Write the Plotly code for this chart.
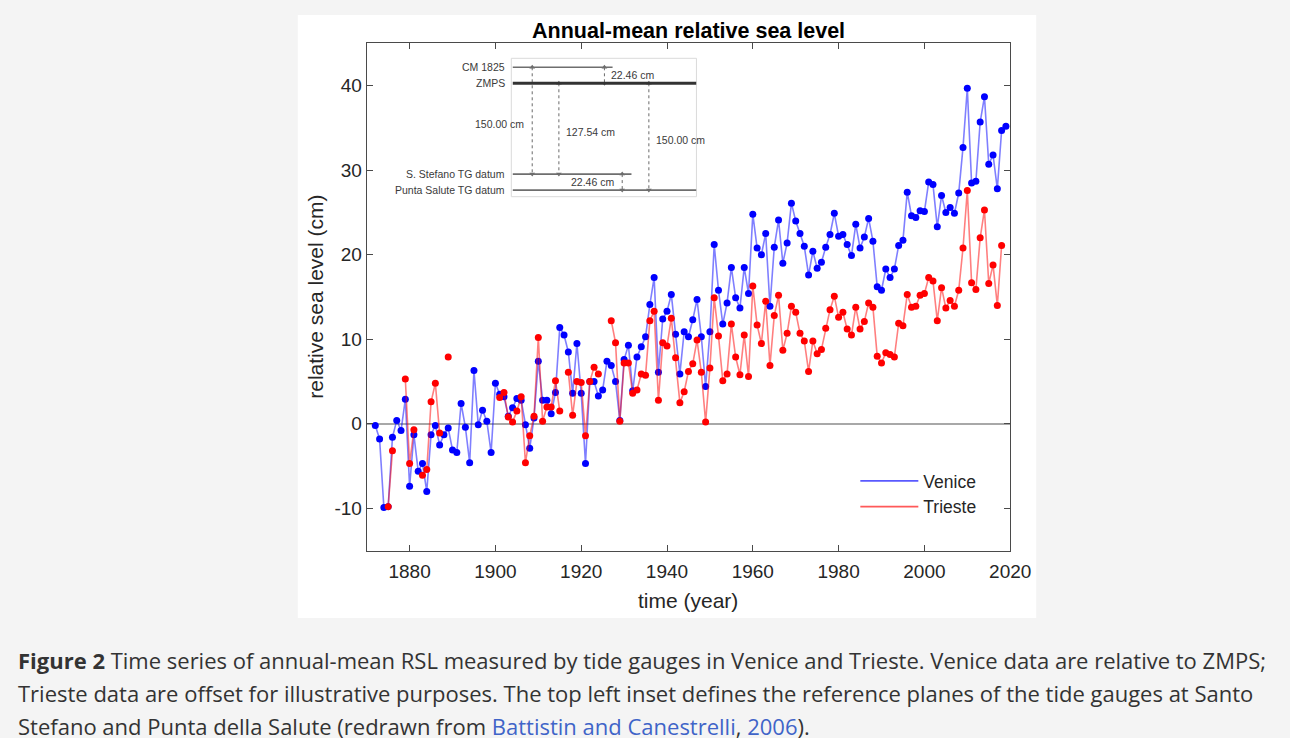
import plotly.graph_objects as go

# ---------------- data ----------------
venice_years = list(range(1872, 2020))
venice = [
    -0.2, -1.8, -9.9, -9.8, -1.6, 0.4, -0.8, 2.9, -7.4, -1.3,          # 1872-1881
    -5.6, -4.7, -8.0, -1.3, -0.2, -2.5, -1.3, -0.5, -3.1, -3.4,          # 1882-1891
    2.4, -0.4, -4.6, 6.3, -0.1, 1.6, 0.3, -3.4, 4.8, 3.5,                # 1892-1901
    3.2, 0.9, 1.9, 3.0, 2.8, -0.1, -2.9, 0.7, 7.4, 2.8,                  # 1902-1911
    2.8, 1.2, 3.7, 11.4, 10.5, 8.5, 3.6, 9.5, 3.6, -4.7,                 # 1912-1921
    5.0, 5.0, 3.3, 4.0, 7.4, 6.9, 5.0, 0.4, 7.6, 9.3,                    # 1922-1931
    3.9, 7.9, 9.1, 10.3, 14.1, 17.3, 6.1, 12.4, 13.3, 15.3,              # 1932-1941
    10.6, 5.9, 10.9, 10.3, 12.3, 14.7, 10.3, 4.4, 10.9, 21.2,            # 1942-1951
    15.8, 11.8, 14.3, 18.5, 14.9, 13.7, 18.5, 15.4, 24.8, 20.8,          # 1952-1961
    20.0, 22.5, 13.9, 20.9, 24.1, 19.0, 21.4, 26.1, 24.0, 22.5,          # 1962-1971
    21.0, 17.6, 20.4, 18.4, 19.1, 20.9, 22.4, 24.9, 22.2, 22.4,          # 1972-1981
    21.2, 19.9, 23.6, 20.8, 22.1, 24.3, 21.6, 16.2, 15.8, 18.3,          # 1982-1991
    17.3, 18.3, 21.1, 21.7, 27.4, 24.6, 24.4, 25.2, 25.1, 28.6,          # 1992-2001
    28.3, 23.3, 27.0, 25.0, 25.6, 24.9, 27.3, 32.7, 39.7, 28.5,          # 2002-2011
    28.7, 35.7, 38.7, 30.7, 31.8, 27.8, 34.7, 35.2,                      # 2012-2019
]

trieste_years = list(range(1875, 2019))
trieste = [
    -9.8, -3.2, None, None, 5.3, -4.7, -0.7, None, -6.1, -5.4,           # 1875-1884
    2.6, 4.8, -1.1, None, 7.9, None, None, None, None, None,             # 1885-1894
    None, None, None, None, None, None, 3.1, 3.7, 0.8, 0.2,              # 1895-1904
    1.5, 3.2, -4.6, -1.4, 0.9, 10.2, 0.3, 2.0, 2.0, 5.1,                 # 1905-1914
    1.5, None, 6.1, 1.0, 5.0, 4.9, -1.4, 5.0, 6.7, 5.9,                  # 1915-1924
    None, None, 12.2, 9.6, 0.3, 7.2, 7.2, 3.6, 4.0, 5.9,                 # 1925-1934
    5.75, 12.2, 13.3, 2.8, 9.6, 9.2, 12.5, 7.8, 2.5, 3.8,                # 1935-1944
    6.2, 7.1, 9.9, 6.1, 0.2, 6.6, 14.9, 10.4, 5.1, 5.9,                  # 1945-1954
    11.8, 7.9, 5.8, 10.5, 5.6, 16.3, 11.7, 9.5, 14.5, 6.9,               # 1955-1964
    12.8, 15.2, 8.7, 10.7, 13.9, 13.2, 10.7, 9.8, 6.2, 9.8,              # 1965-1974
    8.3, 8.8, 11.3, 13.5, 15.1, 12.6, 13.2, 11.2, 10.5, 13.8,            # 1975-1984
    11.2, 12.1, 14.3, 13.8, 8.0, 7.2, 8.4, 8.2, 7.9, 11.9,               # 1985-1994
    11.6, 15.3, 13.8, 13.9, 15.2, 15.4, 17.3, 16.9, 12.2, 16.1,          # 1995-2004
    13.7, 14.6, 13.9, 15.8, 20.8, 27.6, 16.7, 15.9, 22.0, 25.3,          # 2005-2014
    16.6, 18.8, 14.0, 21.1,                                              # 2015-2018
]

x_tick_vals = [1880, 1900, 1920, 1940, 1960, 1980, 2000, 2020]
y_tick_vals = [-10, 0, 10, 20, 30, 40]
y_tick_text = ["-10", "0", "10", "20", "30", "40"]

# inset: reference planes (cm relative to ZMPS)
inset_names = ["CM 1825", "ZMPS", "S. Stefano TG datum", "Punta Salute TG datum"]
inset_levels = [22.46, 0.0, -127.54, -150.00]
# arrows: (from level index, to level index, label)
inset_arrow_from = [0, 1, 1, 0, 2]
inset_arrow_to = [2, 2, 3, 1, 3]
inset_arrow_text = ["150.00 cm", "127.54 cm", "150.00 cm", "22.46 cm", "22.46 cm"]

caption_lines = [
    "<b>Figure 2</b> Time series of annual-mean RSL measured by tide gauges in Venice and Trieste. Venice data are relative to ZMPS;",
    "Trieste data are offset for illustrative purposes. The top left inset defines the reference planes of the tide gauges at Santo",
    "Stefano and Punta della Salute (redrawn from <span style='color:#3f64c8'>Battistin and Canestrelli</span>, "
    "<span style='color:#3f64c8'>2006</span>).",
]

# ---------------- layout helpers ----------------
W, H = 1290, 738
W_EFF = 1270   # horizontal extent observed in the captured page
def px(x):
    return x / W_EFF
def py(y):
    return 1 - y / H

AX_FONT = "Liberation Sans, Arial, Helvetica, sans-serif"
TXT = "#262626"

fig = go.Figure()

# main series
fig.add_trace(go.Scatter(
    x=venice_years, y=venice, mode="lines+markers", name="Venice",
    line=dict(color="rgba(0,0,255,0.5)", width=1.6),
    marker=dict(color="#0000ff", size=7, line=dict(width=0)),
    showlegend=False, connectgaps=False))
fig.add_trace(go.Scatter(
    x=trieste_years, y=trieste, mode="lines+markers", name="Trieste",
    line=dict(color="rgba(255,0,0,0.5)", width=1.6),
    marker=dict(color="#ff0000", size=7, line=dict(width=0)),
    showlegend=False, connectgaps=False))
# legend entries (line only, as in the reference)
fig.add_trace(go.Scatter(x=[None], y=[None], mode="lines", name="Venice",
                         line=dict(color="rgba(60,60,255,0.85)", width=1.6)))
fig.add_trace(go.Scatter(x=[None], y=[None], mode="lines", name="Trieste",
                         line=dict(color="rgba(255,60,60,0.85)", width=1.6)))

# ---------------- inset (schematic of reference planes) ----------------
line_end = [0.547, 1.0, 0.649, 1.0]
line_w = [1.6, 3.0, 1.6, 1.6]
line_c = ["#6e6e6e", "#333333", "#6e6e6e", "#6e6e6e"]
shapes = []
shapes.append(dict(type="rect", xref="paper", yref="paper",
                   x0=px(298), x1=px(1037), y0=py(618), y1=py(15),
                   fillcolor="white", line=dict(width=0), layer="below"))
shapes.append(dict(type="rect", xref="x2 domain", yref="y2 domain",
                   x0=0, x1=1, y0=0, y1=1, line=dict(color="#dadada", width=1)))
for lv, xe, lw, lc in zip(inset_levels, line_end, line_w, line_c):
    shapes.append(dict(type="line", xref="x2", yref="y2", x0=0.008, x1=xe,
                       y0=lv, y1=lv, line=dict(color=lc, width=lw)))

arrow_x = [0.113, 0.257, 0.743, 0.503, 0.599]
label_side = ["left", "right", "right", "right", "left"]
annotations = []
for ax_, i0, i1, txt, side in zip(arrow_x, inset_arrow_from, inset_arrow_to,
                                   inset_arrow_text, label_side):
    ya, yb = inset_levels[i0], inset_levels[i1]
    fig.add_trace(go.Scatter(
        x=[ax_, ax_], y=[ya, yb], xaxis="x2", yaxis="y2", mode="lines+markers",
        line=dict(color="#6a6a6a", width=1, dash="dot"),
        marker=dict(symbol=["triangle-up", "triangle-down"], size=5, color="#6a6a6a"),
        showlegend=False, hoverinfo="skip"))
    annotations.append(dict(
        x=ax_, y=(ya + yb) / 2 - (4 if txt != "22.46 cm" else 0), xref="x2", yref="y2",
        text=txt, showarrow=False, xanchor="right" if side == "left" else "left",
        xshift=-6 if side == "left" else 5,
        font=dict(family=AX_FONT, size=10.5, color="#3a3a3a")))
for name, lv in zip(inset_names, inset_levels):
    annotations.append(dict(
        x=px(507), y=lv, xref="paper", yref="y2", text=name, showarrow=False,
        xanchor="right", yanchor="middle",
        font=dict(family=AX_FONT, size=10.5, color="#3a3a3a")))

# titles
annotations.append(dict(x=px(689), y=py(31), xref="paper", yref="paper",
                        text="<b>Annual-mean relative sea level</b>", showarrow=False,
                        xanchor="center", yanchor="middle",
                        font=dict(family=AX_FONT, size=21.5, color="#000000")))
annotations.append(dict(x=px(689), y=py(600), xref="paper", yref="paper",
                        text="time (year)", showarrow=False,
                        xanchor="center", yanchor="middle",
                        font=dict(family=AX_FONT, size=21, color=TXT)))
annotations.append(dict(x=px(315), y=py(297), xref="paper", yref="paper",
                        text="relative sea level (cm)", showarrow=False, textangle=-90,
                        xanchor="center", yanchor="middle",
                        font=dict(family=AX_FONT, size=21, color=TXT)))
# caption
for i, line in enumerate(caption_lines):
    annotations.append(dict(x=px(16), y=py(660 + 33 * i), xref="paper", yref="paper",
                            text=line, showarrow=False, xanchor="left", yanchor="middle",
                            font=dict(family="Open Sans, sans-serif", size=22.0, color="#333333")))

axis_common = dict(showline=True, linecolor="#4a4a4a", linewidth=1, mirror="ticks",
                   ticks="inside", ticklen=6, tickcolor="#4a4a4a", showgrid=False,
                   tickfont=dict(family=AX_FONT, size=19, color=TXT))

fig.update_layout(
    width=W, height=H, autosize=False, margin=dict(l=0, r=0, t=0, b=0),
    paper_bgcolor="#f4f4f4", plot_bgcolor="white",
    showlegend=True,
    legend=dict(x=px(856), y=py(463), xanchor="left", yanchor="top",
                bgcolor="rgba(0,0,0,0)", borderwidth=0, itemwidth=58,
                font=dict(family=AX_FONT, size=17.5, color=TXT), tracegroupgap=0),
    xaxis=dict(domain=[px(367), px(1011)], range=[1870, 2020], tickvals=x_tick_vals,
               zeroline=False, ticklabelstandoff=4, **axis_common),
    yaxis=dict(domain=[py(550.6), py(43.4)], range=[-15, 45], tickvals=y_tick_vals,
               ticktext=y_tick_text, zeroline=True, zerolinecolor="#a8a8a8",
               zerolinewidth=1.5, **axis_common),
    xaxis2=dict(domain=[px(511.7), px(697)], range=[0, 1], anchor="y2", visible=False,
                fixedrange=True),
    yaxis2=dict(domain=[py(196.7), py(58.3)], range=[-159.3, 35.1], anchor="x2",
                visible=False, fixedrange=True),
    shapes=shapes, annotations=annotations,
)

fig.write_html(
    "out.html",
    config={"responsive": False, "displayModeBar": False},
    post_script=("document.documentElement.style.margin='0';"
                 "document.body.style.margin='0';"
                 "document.documentElement.style.overflow='hidden';"
                 "document.body.style.overflow='hidden';"),
)
